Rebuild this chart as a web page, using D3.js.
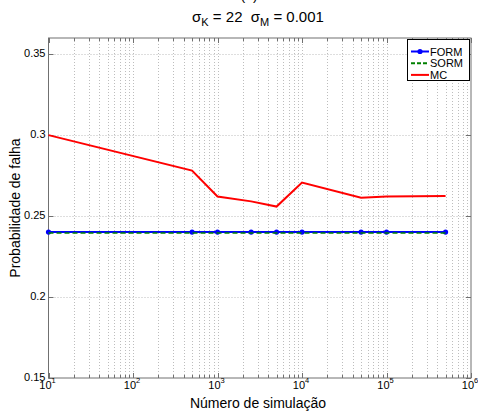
<!DOCTYPE html>
<html><head><meta charset="utf-8">
<script src="https://cdn.jsdelivr.net/npm/d3@7"></script>
<style>body{margin:0;background:#fff}svg{display:block}text{font-family:"Liberation Sans",Arial,sans-serif}</style>
</head><body>
<script>
const simN = [10, 500, 1000, 2500, 5000, 10000, 50000, 100000, 500000];
const formVals = [0.2401, 0.2401, 0.2401, 0.2401, 0.2401, 0.2401, 0.2401, 0.2401, 0.2401];
const sormVals = [0.2395, 0.2395, 0.2395, 0.2395, 0.2395, 0.2395, 0.2395, 0.2395, 0.2395];
const mcVals = [0.300, 0.2781, 0.2621, 0.2591, 0.2559, 0.2707, 0.2613, 0.2621, 0.2624];
const yTicks = [0.15, 0.2, 0.25, 0.3, 0.35];
const xExps = [1, 2, 3, 4, 5, 6];
const legendNames = ["FORM", "SORM", "MC"];

const W = 478, H = 416;
const L = 48.5, R = 471, T = 38, B = 378;
const svg = d3.select("body").append("svg").attr("width", W).attr("height", H);
const x = d3.scaleLog().domain([10, 1e6]).range([L, R]);
const y = d3.scaleLinear().domain([0.15, 0.36]).range([B, T]);

// grid
const minor = [];
for (let e = 1; e < 6; e++) for (let m = 2; m <= 9; m++) minor.push(m * Math.pow(10, e));
const gridX = minor.concat(xExps.map(e => Math.pow(10, e)).slice(1, -1));
const g = svg.append("g");
g.selectAll(".gx").data(gridX).join("line")
  .attr("x1", d => Math.round(x(d)) + 0.5).attr("x2", d => Math.round(x(d)) + 0.5)
  .attr("y1", T).attr("y2", B)
  .attr("stroke", "#bdbdbd").attr("stroke-dasharray", "1,2");
g.selectAll(".gy").data(yTicks.slice(1)).join("line")
  .attr("y1", d => Math.round(y(d)) + 0.5).attr("y2", d => Math.round(y(d)) + 0.5)
  .attr("x1", L).attr("x2", R)
  .attr("stroke", "#bdbdbd").attr("stroke-dasharray", "1,2");

// ticks (inside, both sides)
const axc = "#707070";
const tk = svg.append("g").attr("stroke", axc);
xExps.forEach(e => {
  const px = Math.round(x(Math.pow(10, e))) + 0.5;
  tk.append("line").attr("x1", px).attr("x2", px).attr("y1", B).attr("y2", B - 5);
  tk.append("line").attr("x1", px).attr("x2", px).attr("y1", T).attr("y2", T + 5);
});
minor.forEach(v => {
  const px = Math.round(x(v)) + 0.5;
  tk.append("line").attr("x1", px).attr("x2", px).attr("y1", B).attr("y2", B - 3);
  tk.append("line").attr("x1", px).attr("x2", px).attr("y1", T).attr("y2", T + 3);
});
yTicks.forEach(v => {
  const py = Math.round(y(v)) + 0.5;
  tk.append("line").attr("x1", L).attr("x2", L + 5).attr("y1", py).attr("y2", py);
  tk.append("line").attr("x1", R).attr("x2", R - 5).attr("y1", py).attr("y2", py);
});

// frame
svg.append("rect").attr("x", L).attr("y", T).attr("width", R - L).attr("height", B - T)
  .attr("fill", "none").attr("stroke", axc);

// tick labels
svg.selectAll(".yl").data(yTicks).join("text")
  .attr("x", L - 3).attr("y", d => y(d) + 3).attr("text-anchor", "end")
  .attr("font-size", 11).attr("fill", "#000").text(d => d);
xExps.forEach(e => {
  const t = svg.append("text").attr("x", x(Math.pow(10, e)) - 1).attr("y", 389)
    .attr("text-anchor", "middle").attr("font-size", 11);
  t.append("tspan").text("10");
  t.append("tspan").attr("font-size", 7.5).attr("dy", -6).text(e);
});

// axis titles
svg.append("text").attr("x", 258).attr("y", 408).attr("text-anchor", "middle")
  .attr("font-size", 14).text("Número de simulação");
svg.append("text").attr("transform", `translate(20,${(T + B) / 2}) rotate(-90)`)
  .attr("text-anchor", "middle").attr("font-size", 14).text("Probabilidade de falha");

// title
svg.append("text").attr("x", 249).attr("y", -0.5).attr("text-anchor", "middle")
  .attr("font-size", 14).text("(a)");
const tt = svg.append("text").attr("x", 258).attr("y", 22).attr("text-anchor", "middle")
  .attr("font-size", 15).style("white-space", "pre");
tt.append("tspan").text("σ");
tt.append("tspan").attr("font-size", 11).attr("dy", 4).text("K");
tt.append("tspan").attr("dy", -4).text(" = 22  σ");
tt.append("tspan").attr("font-size", 11).attr("dy", 4).text("M");
tt.append("tspan").attr("dy", -4).text(" = 0.001");

// lines
const line = vals => d3.line().x((d, i) => x(simN[i])).y(d => y(d))(vals);
svg.append("path").attr("d", line(formVals)).attr("fill", "none").attr("stroke", "#0000ff").attr("stroke-width", 2);
svg.selectAll(".fm").data(formVals).join("circle")
  .attr("cx", (d, i) => x(simN[i])).attr("cy", d => y(d)).attr("r", 2.6).attr("fill", "#0000ff");
svg.append("path").attr("d", line(sormVals)).attr("fill", "none").attr("stroke", "#008000")
  .attr("stroke-width", 2).attr("stroke-dasharray", "5,3").attr("opacity", 0.75);
svg.append("path").attr("d", line(mcVals)).attr("fill", "none").attr("stroke", "#ff0000").attr("stroke-width", 2);

// legend
const lg = svg.append("g");
lg.append("rect").attr("x", 407.5).attr("y", 39.5).attr("width", 62).attr("height", 41)
  .attr("fill", "#fff").attr("stroke", "#000");
const lc = ["#0000ff", "#008000", "#ff0000"];
const ld = [null, "4,2", null];
legendNames.forEach((n, i) => {
  const ly = 51.5 + i * 11.7;
  lg.append("line").attr("x1", 411).attr("x2", 429).attr("y1", ly).attr("y2", ly)
    .attr("stroke", lc[i]).attr("stroke-width", 2).attr("stroke-dasharray", ld[i]);
  if (i === 0) lg.append("circle").attr("cx", 420).attr("cy", ly).attr("r", 2.6).attr("fill", lc[i]);
  lg.append("text").attr("x", 430).attr("y", ly + 4).attr("font-size", 11).text(n);
});
</script>
</body></html>
